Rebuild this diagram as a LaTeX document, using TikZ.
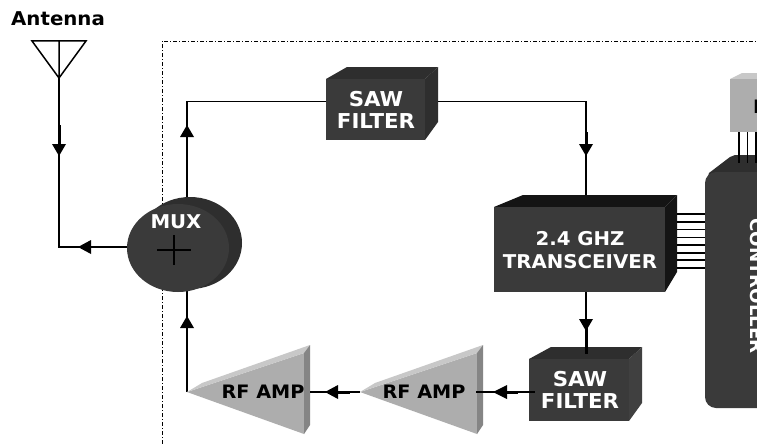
\documentclass[tikz,border=0pt]{standalone}
\usepackage{fontspec}
\setmainfont{DejaVu Sans}[FakeStretch=1.04]
\usetikzlibrary{arrows.meta}
\definecolor{dk}{HTML}{3A3A3A}
\definecolor{dkt}{HTML}{141414}
\definecolor{dks}{HTML}{2E2E2E}
\definecolor{dkr}{HTML}{404040}
\definecolor{lg}{HTML}{ADADAD}
\definecolor{lgt}{HTML}{C8C8C8}
\definecolor{lgs}{HTML}{858585}
\tikzset{
  wire/.style={draw=black,line width=1.9pt},
  thickwire/.style={draw=black,line width=3pt},
  lbl/.style={font=\bfseries\fontsize{19}{23}\selectfont,text=white,align=center,inner sep=0pt},
  sawlbl/.style={font=\bfseries\fontsize{20.5}{22}\selectfont,text=white,align=center,inner sep=0pt},
  blk/.style={font=\bfseries\fontsize{18.5}{20}\selectfont,text=black,inner sep=0pt},
  frame/.style={draw=black,line width=0.7pt,dash pattern=on 4pt off 2pt on 1pt off 2pt},
}
\begin{document}
\begin{tikzpicture}[x=1pt,y=-1pt]
\useasboundingbox (0,0) rectangle (757,444);
\clip (0,0) rectangle (757,444);
\fill[white] (0,0) rectangle (757,444);
\node[font=\bfseries\fontsize{19}{20}\selectfont,anchor=west,inner sep=0pt] (ant) at (11,19) {Antenna};
\draw[frame] (162,444) -- (162,41) -- (757,41);
% antenna
\draw[line width=1.5pt] (32,41) -- (86,41) -- (59,78) -- cycle (59,41) -- (59,78);
\coordinate (antfoot) at (59,78);
\coordinate (corner) at (59,247);
\coordinate (muxw) at (128,247);
\coordinate (upT) at (187,101.5);
\coordinate (dnT) at (586,101.5);
\draw[wire] (antfoot) -- (corner) -- (muxw);
\draw[thickwire] (59,125) -- (59,145);
\fill[black] (59,156) -- (52,144) -- (66,144) -- cycle;
\fill[black] (78,247) -- (91,240) -- (91,254) -- cycle;
% top wires
\draw[wire] (187,200) -- (upT) -- (326,101.5);
\fill[black] (187,125) -- (180,137) -- (194,137) -- cycle;
\draw[wire] (438,101.5) -- (dnT) -- (586,197);
\draw[thickwire] (586,132) -- (586,146);
\fill[black] (586,156) -- (579,144) -- (593,144) -- cycle;
\draw[wire] (187,392) -- (187,285);
\fill[black] (187,316) -- (180,328) -- (194,328) -- cycle;
% MUX
\fill[dks] (190,243) ellipse (52 and 46);
\fill[dk] (178,248) ellipse (51 and 44);
\node[lbl] (mux) at (176,222) {MUX};
\draw[line width=2.6pt] (157,250) -- (191,250) (174,235) -- (174,265);
% SAW top
\fill[dks] (326,79) -- (347,67) -- (438,67) -- (425,79) -- cycle;
\fill[dks] (425,79) -- (438,67) -- (438,122) -- (425,140) -- cycle;
\fill[dk] (326,79) rectangle (425,140);
\node[sawlbl] (saw1) at (376,110) {SAW\\FILTER};
% transceiver
\fill[dkt] (494,207) -- (523,195) -- (677,195) -- (665,207) -- cycle;
\fill[dkt] (665,207) -- (677,195) -- (677,272) -- (665,292) -- cycle;
\fill[dk] (494,207) rectangle (665,292);
\node[lbl] (trx) at (580,250) {2.4 GHZ\\TRANSCEIVER};
% bus
\foreach \y in {214,222,229.5,237.5,245,253,260,268}
  \draw[line width=1.3pt] (677,\y) -- (706,\y);
% SAW lower
\fill[dks] (529,359) -- (551,347) -- (642,347) -- (629,359) -- cycle;
\fill[dkr] (629,359) -- (642,347) -- (642,403) -- (629,421) -- cycle;
\fill[dk] (529,359) rectangle (629,421);
\node[sawlbl] (saw2) at (580,390) {SAW\\FILTER};
% amps
\foreach \xa in {0,173}{
  \fill[lg] (187+\xa,392) -- (304+\xa,353) -- (304+\xa,434) -- cycle;
  \fill[lgt] (187+\xa,392) -- (202+\xa,383) -- (310+\xa,345) -- (304+\xa,353) -- cycle;
  \fill[lgs] (304+\xa,353) -- (310+\xa,345) -- (310+\xa,425) -- (304+\xa,434) -- cycle;
}
\node[blk] (amp1) at (263,392) {RF AMP};
\node[blk] (amp2) at (424,392) {RF AMP};
% lower wires
\draw[wire] (310,392) -- (360,392);
\draw[thickwire] (335,392) -- (350,392);
\fill[black] (325,392) -- (338,385) -- (338,399) -- cycle;
\draw[wire] (476,392) -- (535,392);
\draw[thickwire] (505,392) -- (518,392);
\fill[black] (493,392) -- (507,385) -- (507,399) -- cycle;
\draw[wire] (586,292) -- (586,354);
\draw[thickwire] (586,320) -- (586,354);
\fill[black] (586,331) -- (579,319) -- (593,319) -- cycle;
% controller
\fill[dks] (706,184) -- (709,173) -- (730,157) -- (735,155) -- (800,155) -- (800,184) -- cycle;
\fill[dk,rounded corners=11pt] (705,172) rectangle (800,408);
\node[font=\bfseries\fontsize{17.5}{20}\selectfont,text=white,inner sep=0pt,rotate=-90,anchor=base west] (ctrl) at (750,218) {CONTROLLER};
% upper chip
\foreach \x in {739,747.5,756}
  \draw[line width=1.1pt] (\x,132) -- (\x,163);
\fill[lgt] (730,79) -- (742,73) -- (800,73) -- (800,79) -- cycle;
\fill[lg] (730,79) rectangle (800,132);
\node[blk,anchor=base west] (chip) at (753,113) {R};
\end{tikzpicture}
\end{document}
